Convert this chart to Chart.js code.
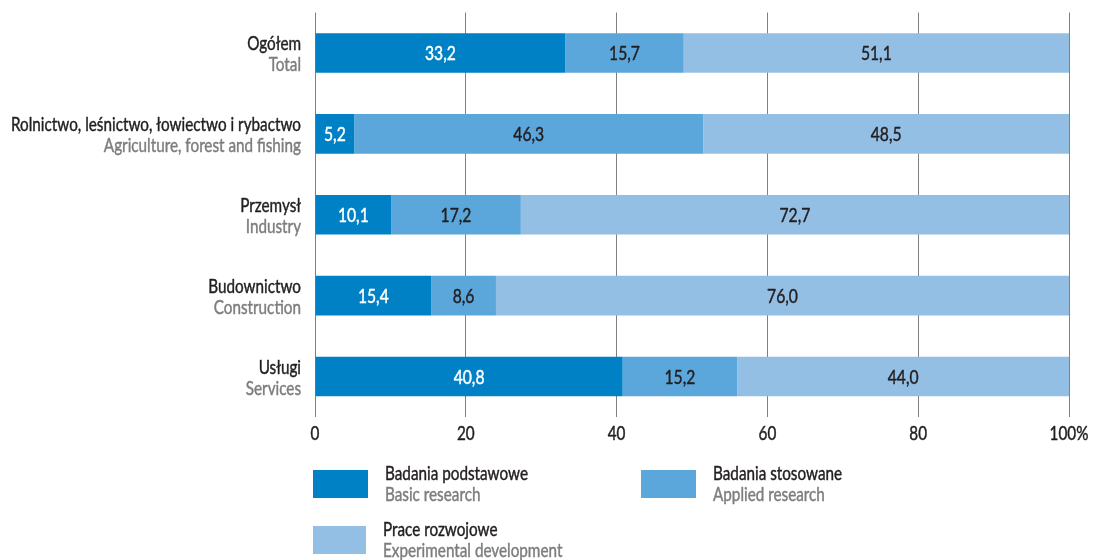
<!DOCTYPE html>
<html><head><meta charset="utf-8">
<script src="https://cdn.jsdelivr.net/npm/chart.js@4.4.1/dist/chart.umd.min.js"></script>
<style>html,body{margin:0;padding:0;background:#fff;} #wrap{width:1098px;height:560px;position:relative;}</style>
</head><body><div id="wrap"><canvas id="c" width="1098" height="560"></canvas></div>
<script>
const categoriesPL = ['Ogółem','Rolnictwo, leśnictwo, łowiectwo i rybactwo','Przemysł','Budownictwo','Usługi'];
const categoriesEN = ['Total','Agriculture, forest and fishing','Industry','Construction','Services'];
const basic = [33.2, 5.2, 10.1, 15.4, 40.8];
const applied = [15.7, 46.3, 17.2, 8.6, 15.2];
const experimental = [51.1, 48.5, 72.7, 76.0, 44.0];
const seriesPL = ['Badania podstawowe','Badania stosowane','Prace rozwojowe'];
const seriesEN = ['Basic research','Applied research','Experimental development'];
const xTickValues = [0, 20, 40, 60, 80, 100];

const FONT = 'Lato, "Open Sans", sans-serif';
const colors = ['#0081C6', '#5BA7DB', '#94BFE4'];
const labelColors = ['#ffffff', '#231F20', '#231F20'];
const DARK = '#231F20', GRAY = '#7d7d7d';
const fmt = v => v.toFixed(1).replace('.', ',');
const tickFmt = v => v === 100 ? '100%' : String(v);

let SX = 0.82; // horizontal condensing factor, computed at draw time
function computeSX(ctx) {
  ctx.save();
  ctx.font = '19px ' + FONT;
  const w = ctx.measureText(categoriesPL[1]).width;
  ctx.restore();
  SX = 290 / w;
}
function txt(ctx, s, x, y, align, color, size) {
  ctx.save();
  ctx.font = (size || 19) + 'px ' + FONT;
  ctx.fillStyle = color;
  ctx.strokeStyle = color;
  ctx.lineWidth = 0.45;
  ctx.lineJoin = 'round';
  ctx.textAlign = align;
  ctx.textBaseline = 'alphabetic';
  ctx.translate(x, y);
  ctx.scale(SX, 1);
  ctx.fillText(s, 0, 0);
  ctx.strokeText(s, 0, 0);
  ctx.restore();
}

const extraPlugin = {
  id: 'extra',
  beforeDraw(chart) { computeSX(chart.ctx); },
  afterDatasetsDraw(chart) {
    const ctx = chart.ctx;
    chart.data.datasets.forEach((ds, di) => {
      const meta = chart.getDatasetMeta(di);
      meta.data.forEach((el, i) => {
        const x = (el.x + el.base) / 2;
        txt(ctx, fmt(ds.data[i]), x, el.y + 7, 'center', labelColors[di], 19.5);
      });
    });
  },
  afterDraw(chart) {
    const ctx = chart.ctx;
    const y = chart.scales.y;
    const xs = chart.scales.x;
    const left = chart.chartArea.left;
    categoriesPL.forEach((c, i) => {
      const cy = y.getPixelForValue(i);
      txt(ctx, c, left - 14, cy - 3, 'right', DARK);
      txt(ctx, categoriesEN[i], left - 14, cy + 18, 'right', GRAY);
    });
    xs.ticks.forEach(t => {
      txt(ctx, tickFmt(t.value), xs.getPixelForValue(t.value), chart.chartArea.bottom + 23, 'center', DARK);
    });
    const items = [
      {bx: left - 2, by: 470, w: 55, h: 28},
      {bx: left + 326, by: 470, w: 55, h: 28},
      {bx: left - 2, by: 526, w: 53, h: 28}
    ];
    items.forEach((it, k) => {
      ctx.fillStyle = colors[k];
      ctx.fillRect(it.bx, it.by, it.w, it.h);
      const tx = it.bx + it.w + 17;
      txt(ctx, seriesPL[k], tx, it.by + 10, 'left', DARK);
      txt(ctx, seriesEN[k], tx, it.by + 31, 'left', GRAY);
    });
  }
};

const mkDs = (label, data, k) => ({
  label, data, backgroundColor: colors[k], borderWidth: 0,
  categoryPercentage: 1.0, barPercentage: 0.49
});

new Chart(document.getElementById('c'), {
  type: 'bar',
  data: {
    labels: categoriesPL,
    datasets: [
      mkDs(seriesPL[0], basic, 0),
      mkDs(seriesPL[1], applied, 1),
      mkDs(seriesPL[2], experimental, 2)
    ]
  },
  options: {
    indexAxis: 'y',
    responsive: false,
    animation: false,
    devicePixelRatio: 1,
    layout: { padding: { left: 315, right: 29, top: 12.5, bottom: 143 } },
    plugins: { legend: { display: false }, tooltip: { enabled: false } },
    scales: {
      x: {
        stacked: true, min: 0, max: 100,
        afterBuildTicks: s => { s.ticks = xTickValues.map(v => ({ value: v })); },
        ticks: { display: false },
        grid: { color: '#808080', lineWidth: 1, drawTicks: false },
        border: { display: false }
      },
      y: { stacked: true, display: false }
    }
  },
  plugins: [extraPlugin]
});
</script>
</body></html>
